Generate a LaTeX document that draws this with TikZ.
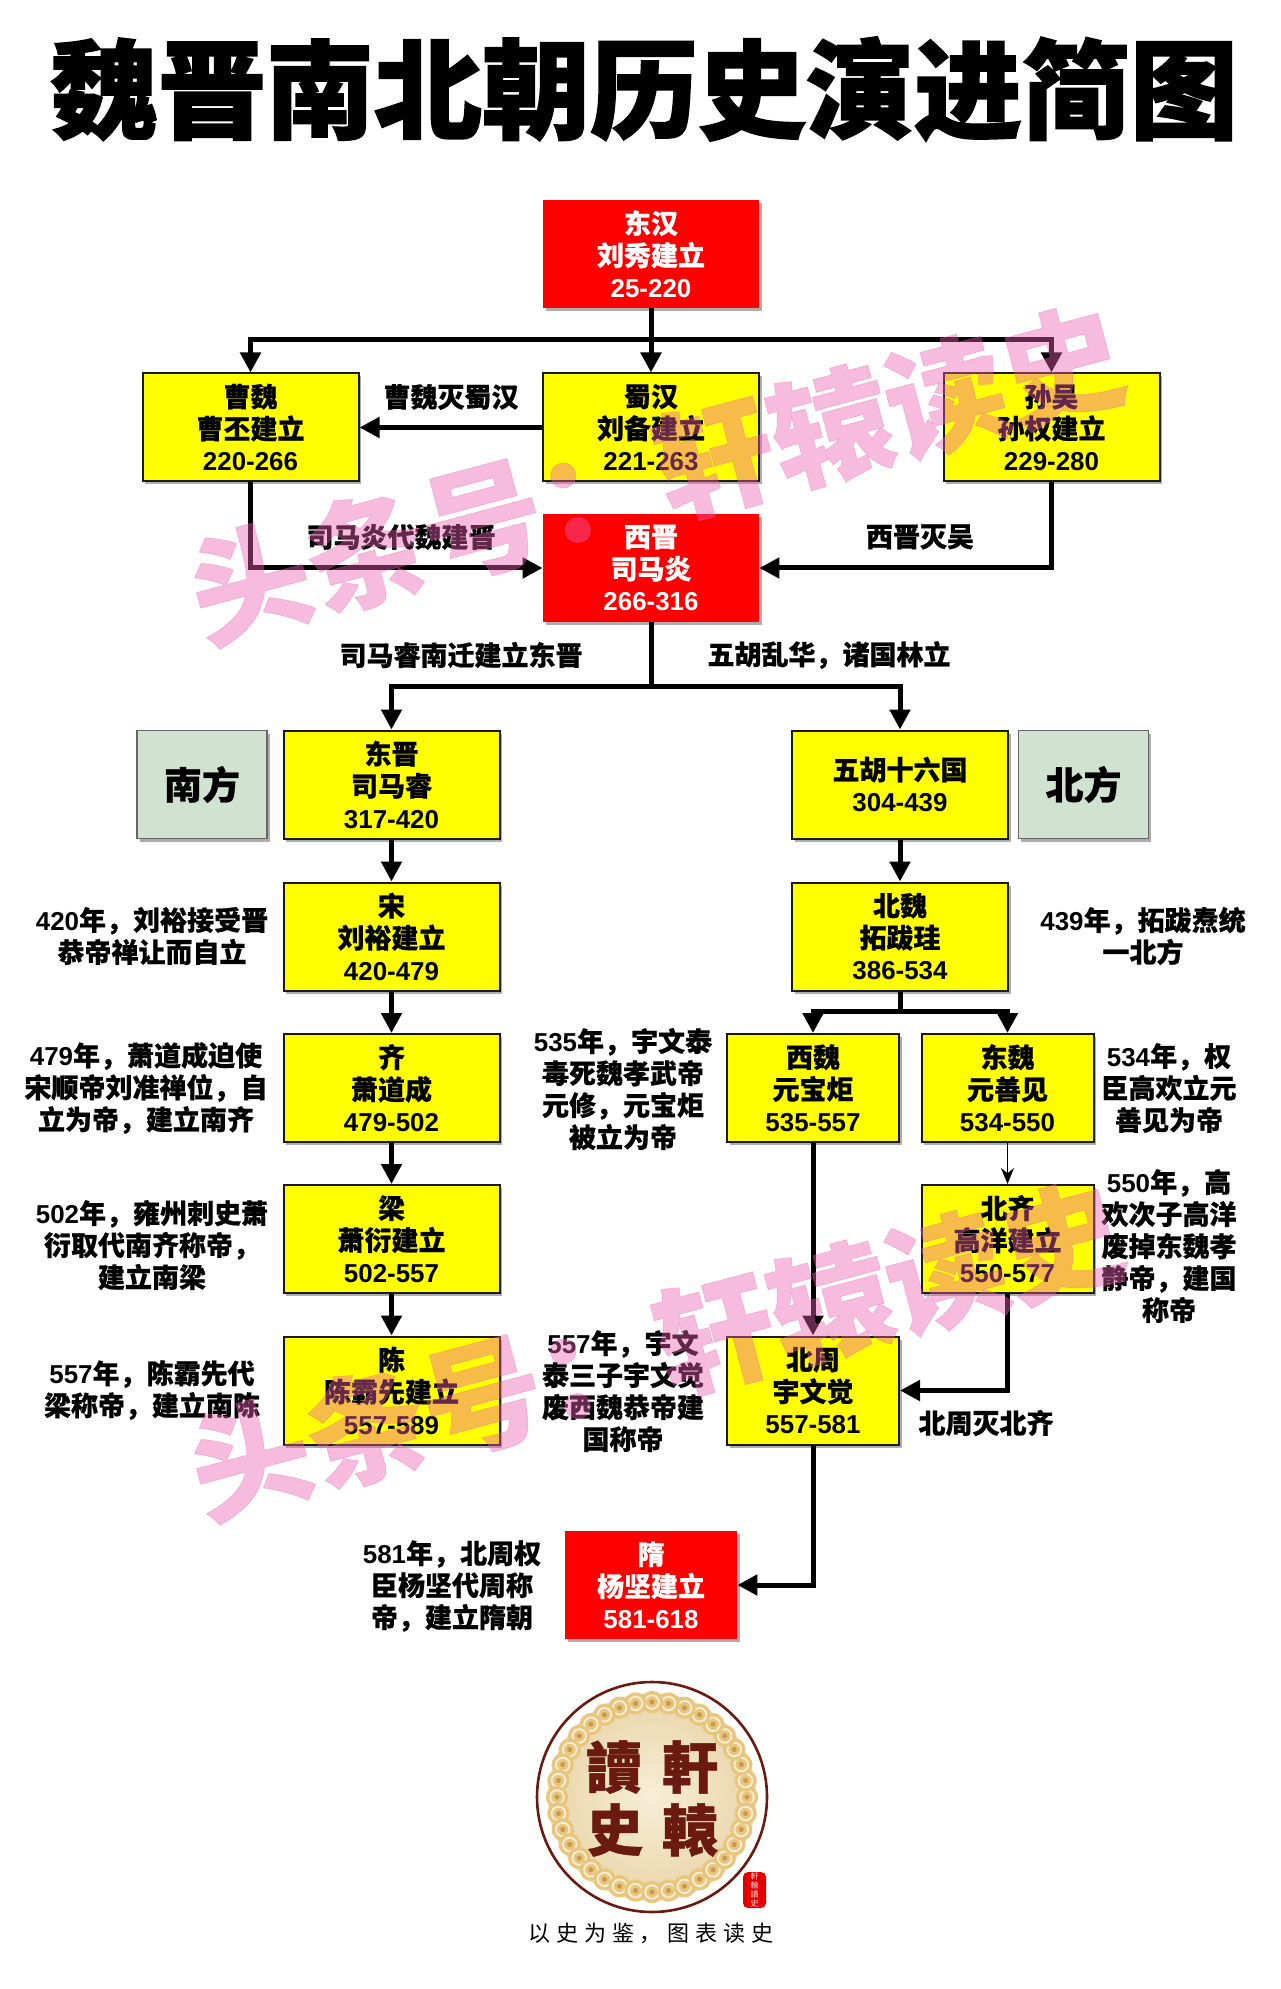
\documentclass[tikz,border=0pt]{standalone}
\usepackage{fontspec}
\usetikzlibrary{arrows.meta,shadows,calc}
\setmainfont{Noto Sans CJK SC}[BoldFeatures={FakeBold=0.6}]
\newfontfamily\titlef{Noto Sans CJK SC}[BoldFeatures={FakeBold=1.6}]
\newfontfamily\markf{Noto Sans CJK SC}[BoldFeatures={FakeBold=0.4}]
\newfontfamily\digf{Liberation Sans}[Scale=0.96]
\newfontfamily\tcf{Noto Sans CJK TC}[BoldFeatures={FakeBold=1}]
\newcommand{\dg}[1]{{\digf\bfseries #1}}
\definecolor{boxred}{RGB}{255,0,0}
\definecolor{boxyel}{RGB}{255,255,0}
\definecolor{sidegreen}{RGB}{208,226,208}
\definecolor{wm}{RGB}{238,95,175}
\definecolor{emb}{RGB}{107,26,16}
\definecolor{ringgold}{RGB}{232,198,125}
\definecolor{ringline}{RGB}{200,155,80}
\definecolor{disc}{RGB}{236,218,178}
\definecolor{discin}{RGB}{247,238,215}
\tikzset{
  x=0.5pt,y=-0.5pt,
  basebox/.style={minimum height=54pt,align=center,inner sep=0pt,font=\fontsize{13.5}{16}\selectfont\bfseries,
    general shadow={shadow xshift=1.3pt,shadow yshift=-1.5pt,fill=black!40,opacity=.8}},
  redbox/.style={basebox,minimum width=108pt,fill=boxred,text=white},
  yelbox/.style={basebox,minimum width=108pt,fill=boxyel,draw=black!90,line width=1pt},
  narrow/.style={minimum width=86pt},
  sidebox/.style={basebox,minimum width=65pt,fill=sidegreen,draw=black!60,line width=.6pt,font=\fontsize{19}{22}\selectfont\bfseries},
  note/.style={align=center,inner sep=0pt,font=\fontsize{13.5}{16}\selectfont\bfseries},
  conn/.style={line width=2.5pt,-{Triangle[width=10pt,length=10pt]}},
  plain/.style={line width=2.5pt},
  thin conn/.style={line width=.8pt,-{Stealth[width=6.5pt,length=8pt]}},
  mark text/.style={text=wm,text opacity=.42,inner sep=0pt,rotate=15,font=\markf\fontsize{60}{62}\selectfont\bfseries},
  emb char/.style={text=emb,inner sep=0pt,font=\tcf\fontsize{28}{28}\selectfont\bfseries},
}
\begin{document}
\begin{tikzpicture}
\useasboundingbox[fill=white] (0,0) rectangle (1280,1989);
% title
\node[inner sep=0pt,font=\titlef\fontsize{54}{60}\selectfont\bfseries] (title) at (644,89) {魏晋南北朝历史演进简图};
% boxes
\node[redbox] (dh) at (651,254) {东汉\\刘秀建立\\\dg{25-220}};
\node[yelbox] (cw) at (250.5,427.5) {曹魏\\曹丕建立\\\dg{220-266}};
\node[yelbox] (sh) at (651,427.5) {蜀汉\\刘备建立\\\dg{221-263}};
\node[yelbox] (sw) at (1051.5,427.5) {孙吴\\孙权建立\\\dg{229-280}};
\node[redbox] (xj) at (651,568) {西晋\\司马炎\\\dg{266-316}};
\node[sidebox] (nf) at (202,784.5) {南方};
\node[yelbox] (dj) at (391.5,784.5) {东晋\\司马睿\\\dg{317-420}};
\node[yelbox] (wh) at (900,784.5) {五胡十六国\\\dg{304-439}};
\node[sidebox] (bf) at (1083.5,784.5) {北方};
\node[yelbox] (song) at (391.5,936.5) {宋\\刘裕建立\\\dg{420-479}};
\node[yelbox] (bw) at (900,936.5) {北魏\\拓跋珪\\\dg{386-534}};
\node[yelbox] (qi) at (391.5,1088) {齐\\萧道成\\\dg{479-502}};
\node[yelbox] (liang) at (391.5,1239) {梁\\萧衍建立\\\dg{502-557}};
\node[yelbox] (chen) at (391.5,1390.5) {陈\\陈霸先建立\\\dg{557-589}};
\node[yelbox,narrow] (xw) at (813,1088) {西魏\\元宝炬\\\dg{535-557}};
\node[yelbox,narrow] (dw) at (1007.5,1088) {东魏\\元善见\\\dg{534-550}};
\node[yelbox,narrow] (bq) at (1007.5,1239) {北齐\\高洋建立\\\dg{550-577}};
\node[yelbox,narrow] (bz) at (813,1390.5) {北周\\宇文觉\\\dg{557-581}};
\node[redbox,minimum width=86pt] (sui) at (651,1585) {隋\\杨坚建立\\\dg{581-618}};
% junctions
\coordinate (busa) at (651,340);
\coordinate (busb) at (651,686);
\coordinate (busc) at (900,1011);
% connectors
\draw[conn] (dh.south) -- (sh.north);
\draw[conn] (busa) -| (cw.north);
\draw[conn] (busa) -| (sw.north);
\draw[conn] (sh.west) -- (cw.east);
\draw[conn] (cw.south) |- (xj.west);
\draw[conn] (sw.south) |- (xj.east);
\draw[plain] (xj.south) -- (busb);
\draw[conn] (busb) -| (dj.north);
\draw[conn] (busb) -| (wh.north);
\draw[conn] (dj.south) -- (song.north);
\draw[conn] (song.south) -- (qi.north);
\draw[conn] (qi.south) -- (liang.north);
\draw[conn] (liang.south) -- (chen.north);
\draw[conn] (wh.south) -- (bw.north);
\draw[plain] (bw.south) -- (busc);
\draw[conn] (busc) -| (xw.north);
\draw[conn] (busc) -| (dw.north);
\draw[conn] (xw.south) -- (bz.north);
\draw[thin conn] (dw.south) -- (bq.north);
\draw[conn] (bq.south) |- (bz.east);
\draw[conn] (bz.south) |- (sui.east);
% notes
\node[note] (n1) at (451,397) {曹魏灭蜀汉};
\node[note] (n2) at (401,537) {司马炎代魏建晋};
\node[note] (n3) at (920,537) {西晋灭吴};
\node[note] (n4) at (461,655) {司马睿南迁建立东晋};
\node[note] (n5) at (829,655) {五胡乱华，诸国林立};
\node[note] (n6) at (152,936) {\dg{420}年，刘裕接受晋\\恭帝禅让而自立};
\node[note] (n7) at (146,1088) {\dg{479}年，萧道成迫使\\宋顺帝刘准禅位，自\\立为帝，建立南齐};
\node[note] (n8) at (152,1245) {\dg{502}年，雍州刺史萧\\衍取代南齐称帝，\\建立南梁};
\node[note] (n9) at (152,1390) {\dg{557}年，陈霸先代\\梁称帝，建立南陈};
\node[note] (n10) at (623,1089) {\dg{535}年，宇文泰\\毒死魏孝武帝\\元修，元宝炬\\被立为帝};
\node[note] (n11) at (623,1391) {\dg{557}年，宇文\\泰三子宇文觉\\废西魏恭帝建\\国称帝};
\node[note] (n12) at (1143,936) {\dg{439}年，拓跋焘统\\一北方};
\node[note] (n13) at (1169,1088) {\dg{534}年，权\\臣高欢立元\\善见为帝};
\node[note] (n14) at (1169,1246) {\dg{550}年，高\\欢次子高洋\\废掉东魏孝\\静帝，建国\\称帝};
\node[note] (n15) at (986,1423) {北周灭北齐};
\node[note] (n16) at (452,1586) {\dg{581}年，北周权\\臣杨坚代周称\\帝，建立隋朝};
% emblem
\fill[white] (652,1797) circle[radius=57.5pt];
\draw[emb,line width=1.3pt] (652,1797) circle[radius=57.5pt];
\fill[disc] (652,1797) circle[radius=52pt];
\foreach \a in {0,10,...,350}{
  \begin{scope}[shift={(652,1797)},rotate=\a]
    \fill[ringgold] (95,0) circle[radius=5.6pt];
    \draw[white!70!ringgold,line width=.9pt] (95,0) circle[radius=3.4pt];
    \fill[ringline] (95,0) circle[radius=1.3pt];
  \end{scope}
}
\shade[inner color=discin,outer color=disc] (652,1797) circle[radius=42pt];
\node[emb char] (e1) at (614,1767) {讀};
\node[emb char] (e2) at (690,1767) {軒};
\node[emb char] (e3) at (615,1830) {史};
\node[emb char] (e4) at (690,1830) {轅};
\node[fill=red!90!black,rounded corners=2.5pt,minimum width=11.5pt,minimum height=18pt,inner sep=0pt,text=white!85!red,align=center,font=\tcf\fontsize{4}{4.4}\selectfont] (seal) at (754.5,1890) {軒\\轅\\讀\\史};
\node[inner sep=0pt,font=\fontsize{11}{12}\selectfont] (cap) at (651,1933) {\addfontfeature{LetterSpace=27}以史为鉴，\hspace{3pt}图表读史};
% watermarks
\node[mark text] (w1) at (656,474) {头条号：轩辕读史};
\node[mark text] (w2) at (656,1350) {头条号：轩辕读史};
\end{tikzpicture}
\end{document}
